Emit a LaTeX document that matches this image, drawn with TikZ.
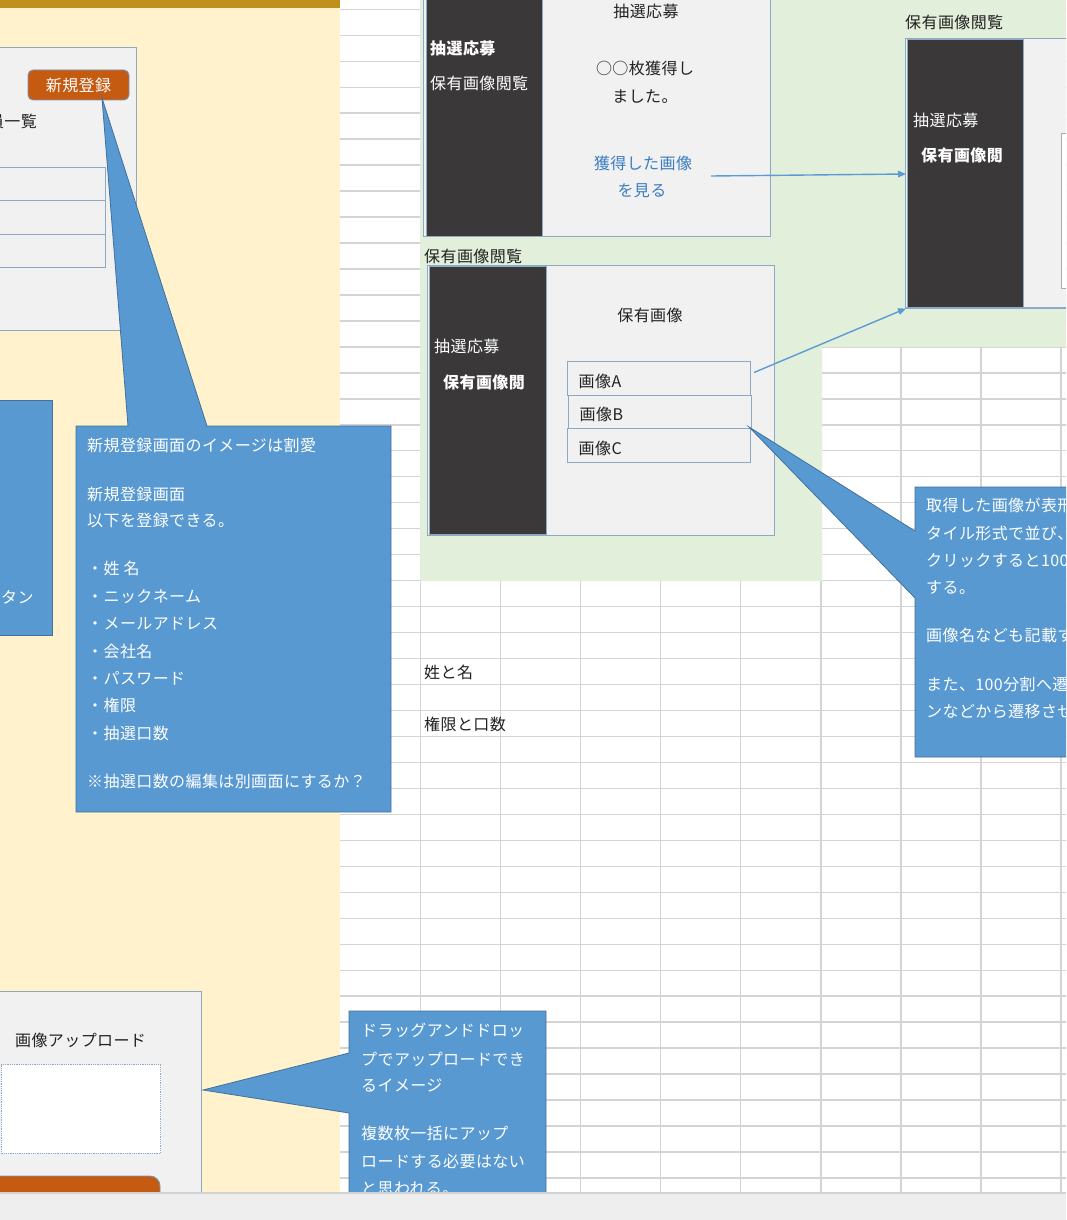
\documentclass[tikz,border=0pt]{standalone}
\usepackage{fontspec}
\newfontfamily\jp[LetterSpace=2.5]{Noto Sans CJK JP}
\usetikzlibrary{arrows.meta}
\definecolor{gridgray}{HTML}{D4D4D4}
\definecolor{yellowbg}{HTML}{FFF2CC}
\definecolor{goldbar}{HTML}{C0901C}
\definecolor{greenbg}{HTML}{E2EFDA}
\definecolor{mockgray}{HTML}{F1F1F1}
\definecolor{mockborder}{HTML}{8EA9C4}
\definecolor{darkside}{HTML}{3A3838}
\definecolor{btnorange}{HTML}{C55A11}
\definecolor{btnborder}{HTML}{7A96B4}
\definecolor{callblue}{HTML}{5899D2}
\definecolor{callborder}{HTML}{41719C}
\definecolor{linkblue}{HTML}{3A7DC1}
\definecolor{arrowblue}{HTML}{5B9BD5}
\definecolor{barfill}{HTML}{EEEEEE}
\definecolor{barline}{HTML}{D3D3D3}
\definecolor{inktext}{HTML}{222222}
\begin{document}
\begin{tikzpicture}[x=1pt,y=-1pt,
  gridline/.style={draw=gridgray, line width=1.4pt},
  mock/.style={fill=mockgray, draw=mockborder, line width=0.9pt},
  side/.style={fill=darkside, draw=mockborder, line width=0.9pt},
  callout/.style={fill=callblue, draw=callborder, line width=0.8pt},
  lbl/.style={font=\jp\fontsize{16pt}{19pt}\selectfont, inner sep=0pt, text height=13.3pt, text depth=1.1pt, anchor=west, text=inktext},
  wlbl/.style={lbl, text=white},
  boldlbl/.style={font=\jp\bfseries\fontsize{16pt}{19pt}\selectfont},
  link/.style={draw=arrowblue, line width=1.4pt, -{Triangle[length=8pt,width=6.5pt]}},
  btn/.style={fill=btnorange, draw=btnborder, line width=0.9pt, rounded corners=5pt}
]
\useasboundingbox (0,0) rectangle (1066,1220);
\clip (0,0) rectangle (1066,1220);
\fill[white] (0,0) rectangle (1066,1220);
% grid
\foreach \k in {0,...,45} \draw[gridline] (340,{9.3+25.97*\k}) -- (1070,{9.3+25.97*\k});
\foreach \k in {0,...,8} \draw[gridline] ({420.5+80.07*\k},0) -- ({420.5+80.07*\k},1192);
% yellow panel
\fill[yellowbg] (0,0) rectangle (340,1192);
\fill[goldbar] (0,0) rectangle (340,8);
% green panel
\fill[greenbg] (420,0) -- (1070,0) -- (1070,347) -- (822,347) -- (822,581) -- (420,581) -- cycle;

% left mock (member list)
\draw[mock] (-5,47) rectangle (136,330);
\draw[btn] (28,70) rectangle (129,100);
\node[wlbl, anchor=center] (btnNew) at (78.5,85) {新規登録};
\node[lbl, anchor=east] (listTitle) at (37,121) {員一覧};
\draw[mock] (-5,167) rectangle (105,200);
\draw[mock] (-5,200) rectangle (105,234);
\draw[mock] (-5,234) rectangle (105,267);

% left partial callout
\draw[callout] (-5,400) rectangle (52,635);
\node[wlbl] (btnNote) at (1,597) {タン};

% top-middle mock
\draw[mock] (423,-5) rectangle (770,236);
\draw[side] (426,-5) rectangle (542,236);
\node[wlbl, boldlbl] (m1a) at (430,48) {抽選応募};
\node[wlbl] (m1b) at (430,83) {保有画像閲覧};
\node[lbl, anchor=center] (m1t) at (646,11) {抽選応募};
\node[lbl, anchor=center] (m1c) at (645,68) {○○枚獲得し};
\node[lbl, anchor=center] (m1d) at (645,96) {ました。};
\node[lbl, anchor=center, text=linkblue] (m1e) at (643,163) {獲得した画像};
\node[lbl, anchor=center, text=linkblue] (m1f) at (642,190) {を見る};

% second mock
\node[lbl] (m2l) at (424,256) {保有画像閲覧};
\draw[mock] (427,265) rectangle (774,535);
\draw[side] (429.5,266) rectangle (546,534);
\node[wlbl] (m2a) at (434,346) {抽選応募};
\node[wlbl, boldlbl] (m2b) at (443,382) {保有画像閲};
\node[lbl, anchor=center] (m2t) at (650,315) {保有画像};
\draw[mock] (567,361) rectangle (750,395);
\draw[mock] (568,395) rectangle (751,428.5);
\draw[mock] (567,428.5) rectangle (750,462);
\node[lbl] (imgA) at (578.5,381) {画像A};
\node[lbl] (imgB) at (579.5,414) {画像B};
\node[lbl] (imgC) at (578.5,448) {画像C};

% right mock
\node[lbl] (m3l) at (905,22) {保有画像閲覧};
\draw[mock, line width=1.6pt] (905.5,38.5) rectangle (1075,308);
\draw[side] (907,39) rectangle (1023,307);
\fill[white, draw=gridgray!80!black, line width=0.8pt] (1061,133) rectangle (1075,288);
\node[wlbl] (m3a) at (913,120) {抽選応募};
\node[wlbl, boldlbl] (m3b) at (921,155) {保有画像閲};

% arrows
\coordinate (a1s) at (711,176);
\coordinate (a1e) at (906,174);
\coordinate (a2s) at (754,372.5);
\coordinate (a2e) at (906,308.5);
\draw[link] (a1s) -- (a1e);
\draw[link] (a2s) -- (a2e);

% grid texts
\node[lbl] (g1) at (424,672) {姓と名};
\node[lbl] (g2) at (424,724) {権限と口数};

% main callout
\draw[callout] (76,426) -- (128,426) -- (102,98) -- (207,426) -- (391,426) -- (391,812) -- (76,812) -- cycle;
\node[wlbl] (c1a) at (87,445.5) {新規登録画面のイメージは割愛};
\node[wlbl] (c1b) at (87,494) {新規登録画面};
\node[wlbl] (c1c) at (87,520) {以下を登録できる。};
\node[wlbl] (c1d) at (87,568) {・姓 名};
\node[wlbl] (c1e) at (87,596) {・ニックネーム};
\node[wlbl] (c1f) at (87,623.5) {・メールアドレス};
\node[wlbl] (c1g) at (87,651.5) {・会社名};
\node[wlbl] (c1h) at (87,678) {・パスワード};
\node[wlbl] (c1i) at (87,705.5) {・権限};
\node[wlbl] (c1j) at (87,733.5) {・抽選口数};
\node[wlbl] (c1k) at (87,781.5) {※抽選口数の編集は別画面にするか？};

% right callout
\draw[callout] (915,487) -- (1075,487) -- (1075,757) -- (915,757) -- (915,598) -- (749,427) -- (915,531) -- cycle;
\node[wlbl] (c2a) at (926,505.5) {取得した画像が表形};
\node[wlbl] (c2b) at (926,533) {タイル形式で並び、};
\node[wlbl] (c2c) at (926,560) {クリックすると100分};
\node[wlbl] (c2d) at (926,587.5) {する。};
\node[wlbl] (c2e) at (926,635.5) {画像名なども記載する};
\node[wlbl] (c2f) at (926,684) {また、100分割へ遷移};
\node[wlbl] (c2g) at (926,711) {ンなどから遷移させ};

% bottom-left upload mock
\draw[mock] (-5,991) rectangle (201,1230);
\node[lbl] (upT) at (15,1040) {画像アップロード};
\draw[fill=white, draw=mockborder, line width=0.8pt, densely dotted] (1,1064.5) rectangle (160.5,1153);
\draw[btn, rounded corners=10pt] (-10,1176) rectangle (160,1240);

% bottom callout
\draw[callout] (349,1011) -- (546,1011) -- (546,1240) -- (349,1240) -- (349,1113) -- (203,1090) -- (349,1053) -- cycle;
\node[wlbl] (c3a) at (361,1030.5) {ドラッグアンドドロッ};
\node[wlbl] (c3b) at (361,1059) {プでアップロードでき};
\node[wlbl] (c3c) at (361,1085) {るイメージ};
\node[wlbl] (c3d) at (361,1133.5) {複数枚一括にアップ};
\node[wlbl] (c3e) at (361,1161) {ロードする必要はない};
\node[wlbl] (c3f) at (361,1188.5) {と思われる。};

% bottom bar
\fill[barfill] (0,1192) rectangle (1066,1220);
\draw[barline, line width=2pt] (0,1192.5) -- (1066,1192.5);
\end{tikzpicture}
\end{document}
